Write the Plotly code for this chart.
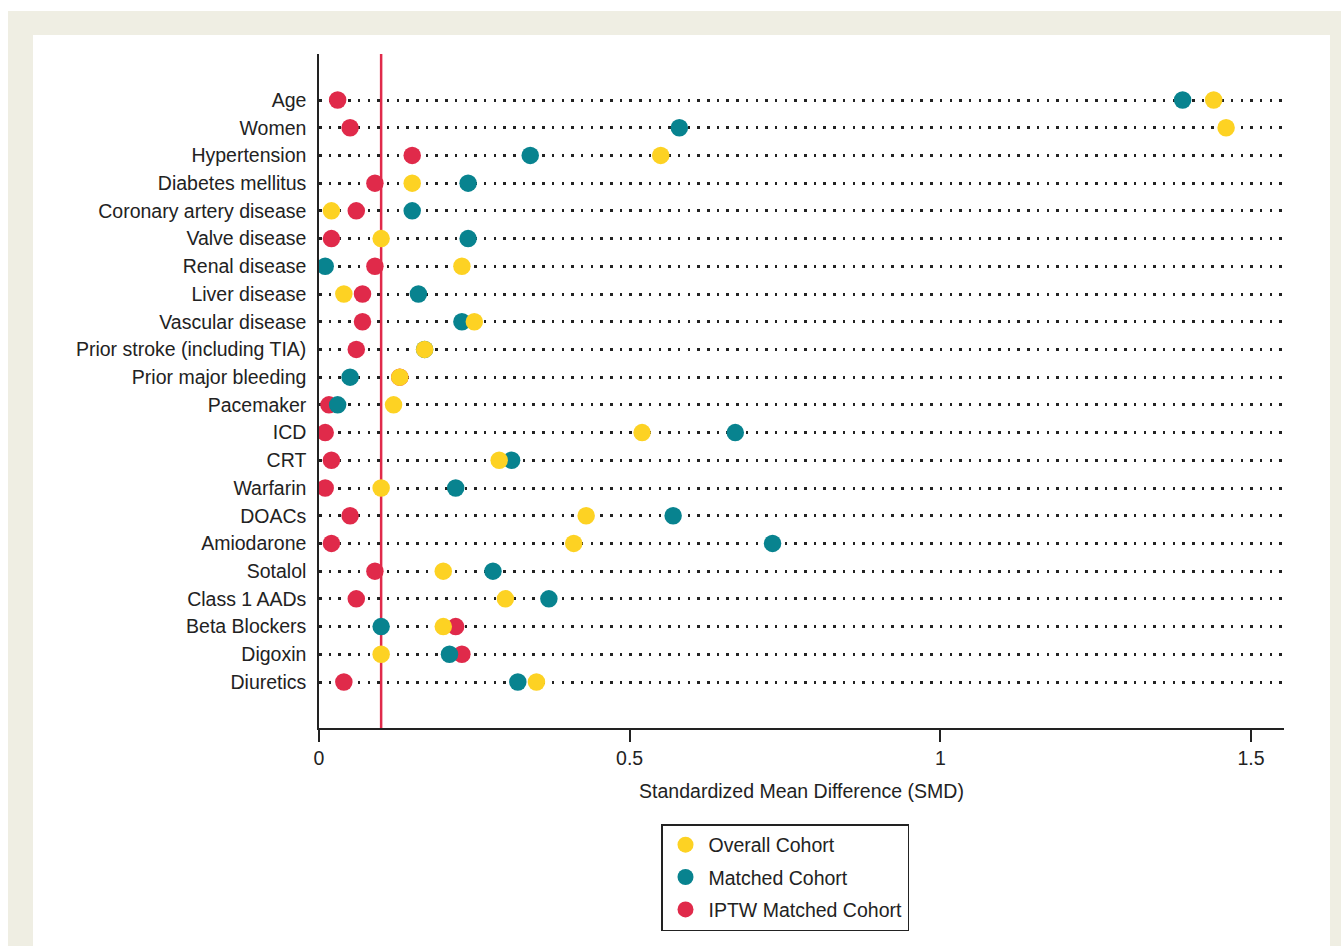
import plotly.graph_objects as go

# Covariates, top to bottom
covariates = [
    "Age", "Women", "Hypertension", "Diabetes mellitus", "Coronary artery disease",
    "Valve disease", "Renal disease", "Liver disease", "Vascular disease",
    "Prior stroke (including TIA)", "Prior major bleeding", "Pacemaker", "ICD", "CRT",
    "Warfarin", "DOACs", "Amiodarone", "Sotalol", "Class 1 AADs", "Beta Blockers",
    "Digoxin", "Diuretics",
]

# Standardized mean differences per cohort
smd_overall = [1.44, 1.46, 0.55, 0.15, 0.02, 0.10, 0.23, 0.04, 0.25, 0.17, 0.13,
               0.12, 0.52, 0.29, 0.10, 0.43, 0.41, 0.20, 0.30, 0.20, 0.10, 0.35]
smd_matched = [1.39, 0.58, 0.34, 0.24, 0.15, 0.24, 0.01, 0.16, 0.23, 0.17, 0.05,
               0.03, 0.67, 0.31, 0.22, 0.57, 0.73, 0.28, 0.37, 0.10, 0.21, 0.32]
smd_iptw = [0.03, 0.05, 0.15, 0.09, 0.06, 0.02, 0.09, 0.07, 0.07, 0.06, 0.13,
            0.016, 0.01, 0.02, 0.01, 0.05, 0.02, 0.09, 0.06, 0.22, 0.23, 0.04]

threshold = 0.1
x_ticks = [0, 0.5, 1, 1.5]
x_tick_labels = ["0", "0.5", "1", "1.5"]

YELLOW = "#FDD223"
TEAL = "#08838F"
RED = "#E02A4A"
BEIGE = "#EFEEE3"
INK = "#222222"

W, H = 1341, 946
L, R, T, B = 319, 57, 54, 218
PW, PH = W - L - R, H - T - B
FONT_SIZE = 19.5


def px_to_paper(x, y):
    return (x - L) / PW, (H - B - y) / PH


rows = list(range(len(covariates)))

fig = go.Figure()
# drawn bottom-up so the overall cohort sits on top where points overlap
series = [
    ("IPTW Matched Cohort", smd_iptw, RED, 3),
    ("Matched Cohort", smd_matched, TEAL, 2),
    ("Overall Cohort", smd_overall, YELLOW, 1),
]
for name, vals, color, rank in series:
    fig.add_trace(go.Scatter(
        x=vals, y=rows, mode="markers", name=name,
        marker=dict(size=17.5, color=color, line=dict(width=0)),
        legendrank=rank, legendgroup=name,
        hoverinfo="x+name",
    ))

shapes = []
# page frame: beige surround with white panel
x0, y0 = px_to_paper(8, 11)
x1, y1 = px_to_paper(1341, 960)
shapes.append(dict(type="rect", xref="paper", yref="paper", x0=x0, y0=y0, x1=x1, y1=y1,
                   fillcolor=BEIGE, line=dict(width=0), layer="below"))
x0, y0 = px_to_paper(33, 35)
x1, y1 = px_to_paper(1330, 960)
shapes.append(dict(type="rect", xref="paper", yref="paper", x0=x0, y0=y0, x1=x1, y1=y1,
                   fillcolor="white", line=dict(width=0), layer="below"))
# SMD threshold line
shapes.append(dict(type="line", xref="x", yref="paper", x0=threshold, x1=threshold,
                   y0=0, y1=1, line=dict(color=RED, width=2.5), layer="below"))

legend_x, legend_y = px_to_paper(661, 824)

fig.update_layout(
    width=W, height=H,
    margin=dict(l=L, r=R, t=T, b=B, pad=0),
    paper_bgcolor="white", plot_bgcolor="rgba(0,0,0,0)",
    font=dict(family="Liberation Sans, Arial, sans-serif", size=FONT_SIZE, color=INK),
    shapes=shapes,
    showlegend=True,
    legend=dict(
        x=legend_x, y=legend_y,
        xanchor="left", yanchor="top",
        bordercolor=INK, borderwidth=1.5, bgcolor="white",
        font=dict(size=FONT_SIZE, color=INK),
        tracegroupgap=4, itemsizing="trace", itemwidth=36,
        entrywidth=237, entrywidthmode="pixels",
    ),
    xaxis=dict(
        range=[0, (1284 - L) / 621.3], tickvals=x_ticks, ticktext=x_tick_labels,
        showgrid=False, zeroline=False,
        showline=True, linecolor=INK, linewidth=1.5,
        ticks="outside", ticklen=12, tickwidth=1.5, tickcolor=INK,
        title=dict(text="Standardized Mean Difference (SMD)", standoff=16,
                   font=dict(size=FONT_SIZE)),
        automargin=False, fixedrange=True,
    ),
    yaxis=dict(
        range=[len(covariates) - 1 + 1.66, -1.66],
        tickvals=rows, ticktext=covariates,
        showgrid=True, gridcolor=INK, gridwidth=2.5, griddash="2.5px,7.2px",
        zeroline=False,
        showline=True, linecolor=INK, linewidth=1.5,
        ticks="", ticklabelstandoff=7,
        automargin=False, fixedrange=True,
    ),
)

fig.write_html("out.html")
